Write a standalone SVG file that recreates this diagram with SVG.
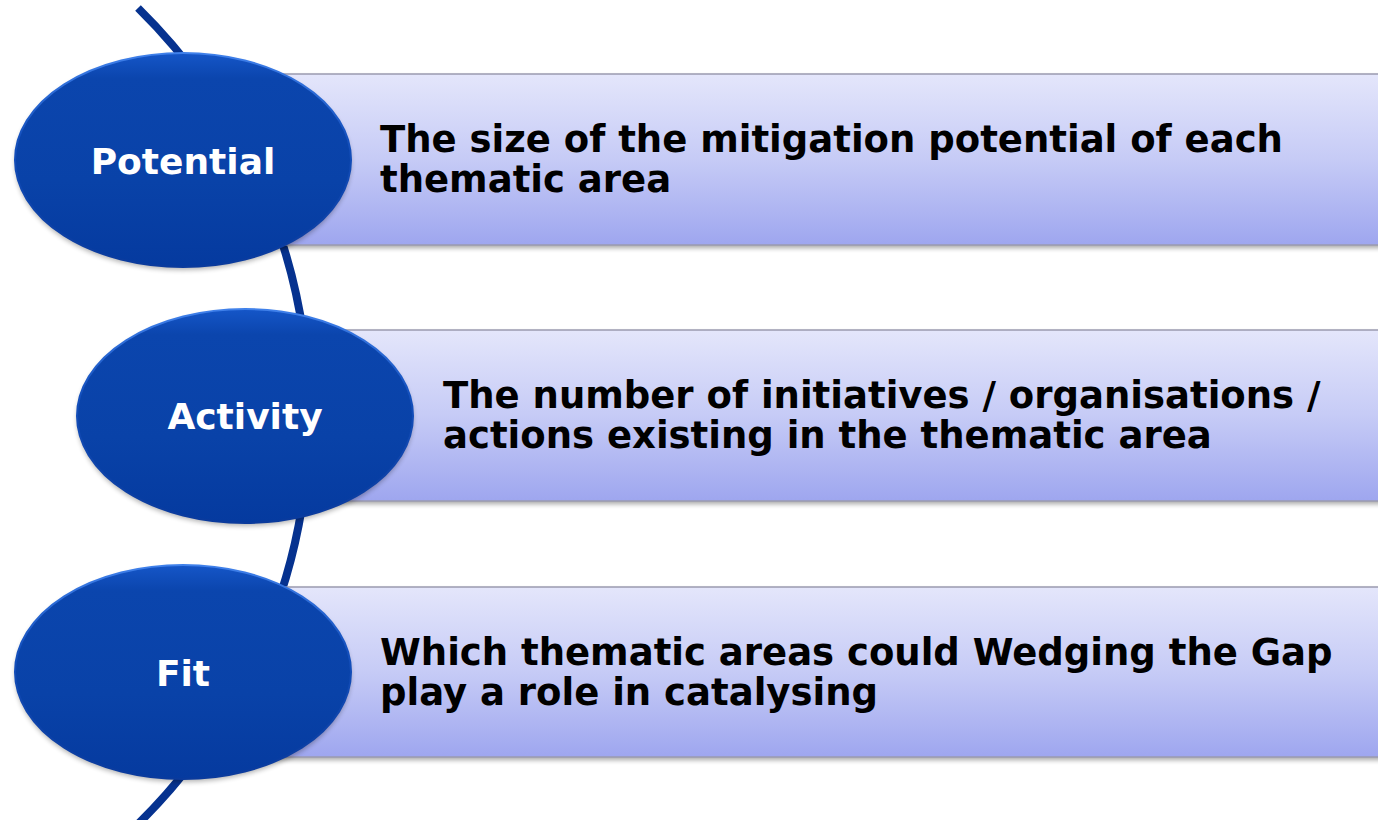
<svg xmlns="http://www.w3.org/2000/svg" width="1378" height="820" viewBox="0 0 1378 820">
  <defs>
    <linearGradient id="barFill" x1="0" y1="0" x2="0" y2="1">
      <stop offset="0" stop-color="#e4e6fb"/>
      <stop offset="0.5" stop-color="#c6cbf6"/>
      <stop offset="1" stop-color="#9ea6ef"/>
    </linearGradient>
    <linearGradient id="ellFill" x1="0" y1="0" x2="0" y2="1">
      <stop offset="0" stop-color="#1556c8"/>
      <stop offset="0.12" stop-color="#0b45ad"/>
      <stop offset="0.6" stop-color="#0942a8"/>
      <stop offset="1" stop-color="#053a9f"/>
    </linearGradient>
    <linearGradient id="ellRim" x1="0" y1="0" x2="0" y2="1">
      <stop offset="0" stop-color="#3f80ea"/>
      <stop offset="0.4" stop-color="#1450bd"/>
      <stop offset="1" stop-color="#0a3a9c"/>
    </linearGradient>
    <filter id="blur" x="-20%" y="-20%" width="140%" height="140%">
      <feGaussianBlur stdDeviation="2.5"/>
    </filter>
  </defs>
  <style>
    .bar { fill: url(#barFill); stroke: #9a9ab0; stroke-width: 1.5; }
    .barsh { fill: #000; opacity: 0.35; filter: url(#blur); }
    .ell { fill: url(#ellFill); stroke: url(#ellRim); stroke-width: 2; }
    .ellsh { fill: #000; opacity: 0.3; filter: url(#blur); }
    .lbl { font-family: "DejaVu Sans", Verdana, sans-serif; font-weight: bold; font-size: 36px; fill: #ffffff; text-anchor: middle; }
    .txt { font-family: "DejaVu Sans", Verdana, sans-serif; font-weight: bold; font-size: 37px; fill: #000000; }
    .arc { fill: none; stroke: #06328f; stroke-width: 8; }
  </style>
  <rect width="1378" height="820" fill="#ffffff"/>

  <g id="connectors">
    <path class="arc" d="M 138 8 A 572 572 0 0 1 138 824"/>
  </g>

  <g id="node-potential">
    <rect class="barsh" x="252" y="77" width="1140" height="171"/>
    <rect class="bar" x="250" y="74" width="1140" height="171"/>
    <ellipse class="ellsh" cx="183" cy="163" rx="168" ry="107"/>
    <ellipse class="ell" cx="183" cy="160" rx="168" ry="107"/>
    <text class="lbl" x="183" y="174">Potential</text>
    <text class="txt" x="380" y="152">The size of the mitigation potential of each</text>
    <text class="txt" x="380" y="192">thematic area</text>
  </g>

  <g id="node-activity">
    <rect class="barsh" x="312" y="333" width="1080" height="171"/>
    <rect class="bar" x="310" y="330" width="1080" height="171"/>
    <ellipse class="ellsh" cx="245" cy="419" rx="168" ry="107"/>
    <ellipse class="ell" cx="245" cy="416" rx="168" ry="107"/>
    <text class="lbl" x="245" y="429">Activity</text>
    <text class="txt" x="443" y="408">The number of initiatives / organisations /</text>
    <text class="txt" x="443" y="448">actions existing in the thematic area</text>
  </g>

  <g id="node-fit">
    <rect class="barsh" x="252" y="590" width="1140" height="170"/>
    <rect class="bar" x="250" y="587" width="1140" height="170"/>
    <ellipse class="ellsh" cx="183" cy="675" rx="168" ry="107"/>
    <ellipse class="ell" cx="183" cy="672" rx="168" ry="107"/>
    <text class="lbl" x="183" y="686">Fit</text>
    <text class="txt" x="380" y="665">Which thematic areas could Wedging the Gap</text>
    <text class="txt" x="380" y="705">play a role in catalysing</text>
  </g>
</svg>
